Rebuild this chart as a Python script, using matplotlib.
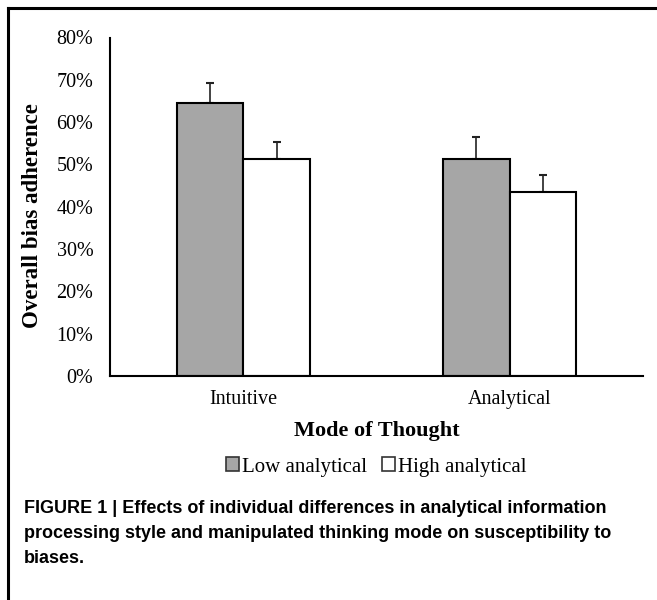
import matplotlib
matplotlib.use("Agg")
import matplotlib.pyplot as plt
from matplotlib.patches import Patch
from matplotlib.lines import Line2D
from matplotlib.ticker import PercentFormatter
import numpy as np

categories = ["Intuitive", "Analytical"]
series_names = ["Low analytical", "High analytical"]
low_vals = [64.6, 51.2]
low_err = [4.7, 5.3]
high_vals = [51.2, 43.5]
high_err = [4.0, 4.0]
yticks = [0, 10, 20, 30, 40, 50, 60, 70, 80]

serif = ["Liberation Serif", "DejaVu Serif"]
sans = ["Liberation Sans", "DejaVu Sans"]

fig = plt.figure(figsize=(6.57, 6.0), dpi=100)
ax = fig.add_axes([110/657, 1 - 376/600, (643-110)/657, (376-37.5)/600])

x = np.arange(len(categories))
w = 0.25
ax.bar(x - w/2, low_vals, w, color="#a6a6a6", edgecolor="black", linewidth=1.5, zorder=2)
ax.bar(x + w/2, high_vals, w, color="white", edgecolor="black", linewidth=1.5, zorder=2)
ax.errorbar(x - w/2, low_vals, yerr=[np.zeros(2), low_err], fmt="none", ecolor="#222222",
            elinewidth=1.2, capsize=3, capthick=1.5, zorder=1)
ax.errorbar(x + w/2, high_vals, yerr=[np.zeros(2), high_err], fmt="none", ecolor="#222222",
            elinewidth=1.2, capsize=3, capthick=1.5, zorder=1)

ax.set_xlim(-0.5, 1.5)
ax.set_ylim(0, 80)
ax.set_yticks(yticks)
ax.yaxis.set_major_formatter(PercentFormatter(decimals=0))
ax.set_xticks(x)
ax.set_xticklabels(categories)
for lab in ax.get_xticklabels() + ax.get_yticklabels():
    lab.set_family(serif)
    lab.set_fontsize(14.5)
ax.tick_params(axis="y", length=0, pad=12)
ax.tick_params(axis="x", length=0, pad=10)
for s in ["top", "right"]:
    ax.spines[s].set_visible(False)
for s in ["left", "bottom"]:
    ax.spines[s].set_linewidth(1.5)

ax.set_xlabel("Mode of Thought", family=serif, fontsize=16, fontweight="bold", labelpad=9)
ax.set_ylabel("Overall bias adherence", family=serif, fontsize=16.5, fontweight="bold")
ax.yaxis.set_label_coords(-(110 - 43) / (643 - 110), (376 - 216) / (376 - 37.5))

handles = [Patch(facecolor="#a6a6a6", edgecolor="#333333", linewidth=1.2),
           Patch(facecolor="white", edgecolor="#333333", linewidth=1.2)]
fig.legend(handles, series_names, loc="center", bbox_to_anchor=(376/657, 1 - 467/600),
           ncol=2, frameon=False, prop={"family": serif, "size": 15},
           handlelength=0.65, handleheight=0.65, handletextpad=0.12, columnspacing=0.7)

caption = ("FIGURE 1 | Effects of individual differences in analytical information\n"
           "processing style and manipulated thinking mode on susceptibility to\n"
           "biases.")
fig.text(24/657, 1 - 500/600, caption, family=sans, fontsize=13, fontweight="bold",
         ha="left", va="top", linespacing=1.62)

# outer frame (cropped box)
fig.add_artist(Line2D([8/657, 8/657], [0, 1 - 8/600], color="black", linewidth=2.2,
                      transform=fig.transFigure))
fig.add_artist(Line2D([8/657, 1], [1 - 8/600, 1 - 8/600], color="black", linewidth=2.2,
                      transform=fig.transFigure))

fig.savefig("out.png", dpi=100)
